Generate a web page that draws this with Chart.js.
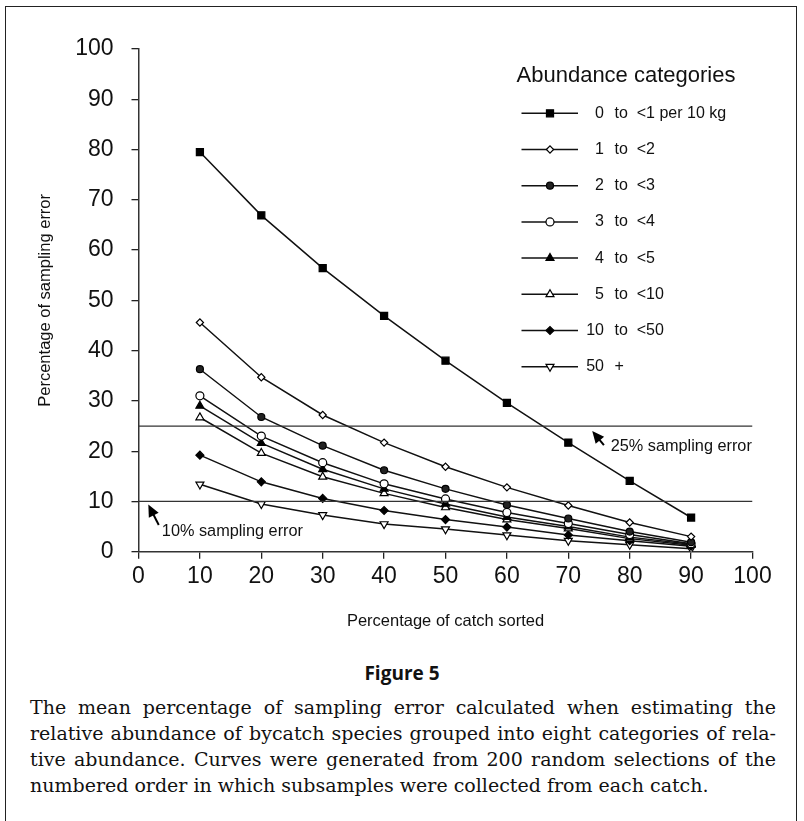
<!DOCTYPE html>
<html>
<head>
<meta charset="utf-8">
<script src="https://cdn.jsdelivr.net/npm/chart.js@4/dist/chart.umd.min.js"></script>
<style>
  body{margin:0;background:#fff;width:804px;height:821px;overflow:hidden;position:relative;}
  .frame{position:absolute;left:5px;top:6px;width:792px;height:900px;border:1.5px solid #222;box-sizing:border-box;}
  #myChart{position:absolute;left:0;top:0;}
  .figno{position:absolute;left:0;width:804px;top:661px;text-align:center;font-family:"Open Sans",sans-serif;font-weight:700;font-size:19px;line-height:24px;color:#111;}
  .caption{position:absolute;left:30px;width:746px;top:694px;font-family:"DejaVu Serif",serif;font-size:19px;line-height:26px;color:#111;}
  .caption div{text-align:justify;text-align-last:justify;white-space:nowrap;}
  .caption div.last{text-align-last:left;}
</style>
</head>
<body>
<div class="frame"></div>
<canvas id="myChart" width="804" height="650"></canvas>
<div class="figno">Figure 5</div>
<div class="caption">
  <div>The mean percentage of sampling error calculated when estimating the</div>
  <div>relative abundance of bycatch species grouped into eight categories of rela-</div>
  <div>tive abundance. Curves were generated from 200 random selections of the</div>
  <div class="last">numbered order in which subsamples were collected from each catch.</div>
</div>
<script>
// 数据：x 为已分拣渔获百分比，每条曲线一个丰度类别
const catchSorted=[10,20,30,40,50,60,70,80,90];
const categories=['0  to  <1 per 10 kg','1  to  <2','2  to  <3','3  to  <4','4  to  <5','5  to  <10','10  to  <50','50  +'];
const cat0=[79.5,66.9,56.4,46.9,38.0,29.6,21.7,14.1,6.8];
const cat1=[45.6,34.7,27.2,21.7,16.9,12.8,9.2,5.8,3.0];
const cat2=[36.3,26.8,21.1,16.2,12.5,9.3,6.6,4.0,1.9];
const cat3=[31.0,23.0,17.7,13.5,10.5,7.8,5.6,3.4,1.6];
const cat4=[29.0,21.6,16.4,12.5,9.5,6.9,5.0,2.9,1.5];
const cat5=[26.7,19.6,14.9,11.6,8.8,6.4,4.6,2.6,1.3];
const cat6=[19.2,13.9,10.6,8.2,6.4,4.9,3.3,2.2,1.1];
const cat7=[13.4,9.5,7.3,5.5,4.5,3.3,2.2,1.4,0.6];
const seriesValues=[cat0,cat1,cat2,cat3,cat4,cat5,cat6,cat7];
// 参考线（抽样误差）
const refLevels=[25,10];
const refLabels=['25% sampling error','10% sampling error'];
const xTicks=[0,10,20,30,40,50,60,70,80,90,100];
const yTicks=[0,10,20,30,40,50,60,70,80,90,100];

// 每条曲线的点样式
const markers=[
  {pointStyle:'rect',radius:5,fill:'#000',rotation:0},
  {pointStyle:'rectRot',radius:3.6,fill:'#fff',rotation:0},
  {pointStyle:'circle',radius:3.5,fill:'#222',rotation:0},
  {pointStyle:'circle',radius:4,fill:'#fff',rotation:0},
  {pointStyle:'triangle',radius:4.6,fill:'#000',rotation:0},
  {pointStyle:'triangle',radius:4.6,fill:'#fff',rotation:0},
  {pointStyle:'rectRot',radius:4,fill:'#000',rotation:0},
  {pointStyle:'triangle',radius:4.6,fill:'#fff',rotation:180}
];

const datasets=seriesValues.map((vals,idx)=>{
  return {
    label:categories[idx],
    data:vals.map((v,i)=>({x:catchSorted[i],y:v})),
    borderColor:'#111',
    borderWidth:1.5,
    pointStyle:markers[idx].pointStyle,
    pointRadius:markers[idx].radius,
    pointRotation:markers[idx].rotation,
    pointBackgroundColor:markers[idx].fill,
    pointBorderColor:'#000',
    pointBorderWidth:1.2,
    tension:0
  };
});
refLevels.forEach(lv=>{
  datasets.unshift({
    label:'ref'+lv,
    data:[{x:xTicks[0],y:lv},{x:xTicks[xTicks.length-1],y:lv}],
    borderColor:'#333',
    borderWidth:1.3,
    pointRadius:0
  });
});

function drawMarker(ctx,m,x,y){
  ctx.save();
  ctx.fillStyle=m.fill;
  ctx.strokeStyle='#000';
  ctx.lineWidth=1.2;
  if(Chart.helpers&&Chart.helpers.drawPoint){
    Chart.helpers.drawPoint(ctx,{pointStyle:m.pointStyle,radius:m.radius,rotation:m.rotation,borderWidth:1.2},x,y);
  }
  ctx.restore();
}

// 图例（右上角）
const legendPlugin={
  id:'abundLegend',
  afterDatasetsDraw(chart){
    const ctx=chart.ctx;
    ctx.save();
    ctx.fillStyle='#111';
    ctx.font='22px "Liberation Sans", Arial, sans-serif';
    ctx.textAlign='center';
    ctx.textBaseline='middle';
    ctx.fillText('Abundance categories',626,76);
    ctx.font='16px "Liberation Sans", Arial, sans-serif';
    categories.forEach((lab,i)=>{
      const y=113.3+i*36.2;
      ctx.strokeStyle='#111';
      ctx.lineWidth=1.5;
      ctx.beginPath();
      ctx.moveTo(521.5,y);
      ctx.lineTo(578,y);
      ctx.stroke();
      drawMarker(ctx,markers[i],550,y);
      const sp=lab.indexOf(' ');
      ctx.fillStyle='#111';
      ctx.textAlign='right';
      ctx.fillText(lab.slice(0,sp),604,y);
      ctx.textAlign='left';
      ctx.fillText(lab.slice(sp).trim(),614.5,y);
    });
    ctx.restore();
  }
};

// 箭头 + 说明文字
const notes=[
  {tip:[73.9,24.0],tail:[75.8,21.2],text:[76.9,21.0]},
  {tip:[1.6,9.4],tail:[3.3,5.3],text:[3.8,4.1]}
];
const arrowPlugin={
  id:'arrows',
  afterDatasetsDraw(chart){
    const ctx=chart.ctx;
    const xs=chart.scales.x, ys=chart.scales.y;
    ctx.save();
    notes.forEach((n,i)=>{
      const tx=xs.getPixelForValue(n.tip[0]), ty=ys.getPixelForValue(n.tip[1]);
      const ex=xs.getPixelForValue(n.tail[0]), ey=ys.getPixelForValue(n.tail[1]);
      let dx=ex-tx, dy=ey-ty;
      const len=Math.hypot(dx,dy); dx/=len; dy/=len;
      const hl=12, hw=5.5;
      ctx.fillStyle='#000';
      ctx.beginPath();
      ctx.moveTo(tx,ty);
      ctx.lineTo(tx+dx*hl-dy*hw,ty+dy*hl+dx*hw);
      ctx.lineTo(tx+dx*hl+dy*hw,ty+dy*hl-dx*hw);
      ctx.closePath();
      ctx.fill();
      ctx.strokeStyle='#000';
      ctx.lineWidth=2;
      ctx.beginPath();
      ctx.moveTo(tx+dx*hl*0.6,ty+dy*hl*0.6);
      ctx.lineTo(ex,ey);
      ctx.stroke();
      ctx.font='16.3px "Liberation Sans", Arial, sans-serif';
      ctx.textAlign='left';
      ctx.textBaseline='middle';
      ctx.fillStyle='#111';
      ctx.fillText(refLabels[i],xs.getPixelForValue(n.text[0]),ys.getPixelForValue(n.text[1]));
    });
    ctx.restore();
  }
};

const ctx=document.getElementById('myChart').getContext('2d');
const myChart=new Chart(ctx,{
  type:'line',
  data:{datasets:datasets},
  options:{
    responsive:false,
    animation:false,
    devicePixelRatio:1,
    layout:{padding:{left:35.1,right:51.5,top:49,bottom:18.4}},
    plugins:{legend:{display:false},tooltip:{enabled:false}},
    scales:{
      x:{
        type:'linear',
        min:0,max:100,
        afterBuildTicks(scale){scale.ticks=xTicks.map(v=>({value:v}));},
        afterFit(scale){scale.height=79.9;},
        grid:{drawOnChartArea:false,drawTicks:true,tickLength:7,color:'#222',lineWidth:1.3},
        border:{display:true,color:'#333',width:1.5},
        ticks:{color:'#111',padding:4,font:{family:'"Liberation Sans", Arial, sans-serif',size:23},maxRotation:0},
        title:{display:true,text:'Percentage of catch sorted',color:'#111',padding:{top:20,bottom:0},font:{family:'"Liberation Sans", Arial, sans-serif',size:16.5,lineHeight:1.2}}
      },
      y:{
        type:'linear',
        min:0,max:100,
        afterBuildTicks(scale){scale.ticks=yTicks.map(v=>({value:v}));},
        afterFit(scale){scale.width=103.4;},
        grid:{drawOnChartArea:false,drawTicks:true,tickLength:7,color:'#222',lineWidth:1.3},
        border:{display:true,color:'#333',width:1.5},
        ticks:{color:'#111',padding:18,font:{family:'"Liberation Sans", Arial, sans-serif',size:23}},
        title:{display:true,text:'Percentage of sampling error',color:'#111',padding:{top:0,bottom:20},font:{family:'"Liberation Sans", Arial, sans-serif',size:16.5,lineHeight:1.2}}
      }
    }
  },
  plugins:[legendPlugin,arrowPlugin]
});
</script>
</body>
</html>
